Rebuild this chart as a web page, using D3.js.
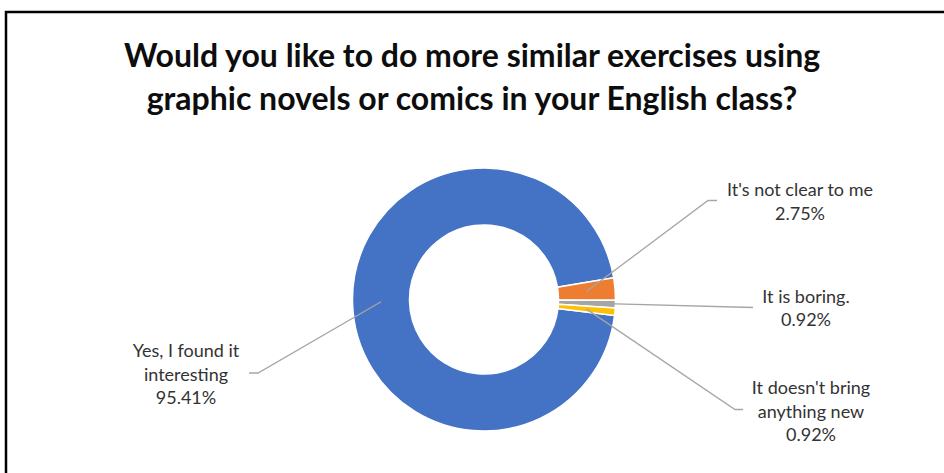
<!DOCTYPE html>
<html>
<head>
<meta charset="utf-8">
<script src="https://cdn.jsdelivr.net/npm/d3@7"></script>
<style>
  html, body { margin: 0; padding: 0; background: #fff; }
  svg { display: block; }
</style>
</head>
<body>
<svg></svg>
<script>
// Set variables

let categories = ['Yes, I found it interesting', "It's not clear to me", 'It is boring.', "It doesn't bring anything new"]
let values = [95.41, 2.75, 0.92, 0.92]
let labelLines = [
    ['Yes, I found it', 'interesting'],
    ["It's not clear to me"],
    ['It is boring.'],
    ["It doesn't bring", 'anything new']
]
let titleLines = ['Would you like to do more similar exercises using', 'graphic novels or comics in your English class?']

let colors = ['#4472C4', '#ED7D31', '#A5A5A5', '#FFC000']

let width = 944
let height = 473
let cx = 484
let cy = 299.5
let outerR = 131.5
let innerR = 74.5
let startDeg = 97

// where each label sits: center x, first baseline, leader elbow and end
let labelLayout = [
    { x: 186, y: 357, elbow: [258, 373], end: [249, 373] },
    { x: 800, y: 196, elbow: [708, 200.5], end: [717, 200.5] },
    { x: 806, y: 302.5, elbow: null, end: [753, 307.5] },
    { x: 811, y: 394, elbow: [735, 409.5], end: [743, 409.5] }
]
let lineGap = 23.5

let svg = d3.select('svg')

// Draw canvas

let drawCanvas = () => {
    svg.attr('width', width)
    svg.attr('height', height)

    // frame, only left and top edges show in the picture
    svg.append('path')
        .attr('d', 'M6,' + height + ' L6,12 L' + width + ',12')
        .attr('fill', 'none')
        .attr('stroke', '#000')
        .attr('stroke-width', 2.5)
}

// Draw title

let drawTitle = () => {
    let title = svg.append('text')
        .attr('text-anchor', 'middle')
        .attr('font-family', 'Lato, sans-serif')
        .attr('font-weight', 'bold')
        .attr('font-size', 32)
        .attr('fill', '#0d0d0d')

    title.selectAll('tspan')
        .data(titleLines)
        .enter()
        .append('tspan')
        .attr('x', 472)
        .attr('y', (d, i) => 67 + i * 43)
        .text((d) => d)
}

// Draw donut

let drawDonut = () => {
    let startAngle = startDeg * Math.PI / 180
    let pie = d3.pie()
                .sort(null)
                .startAngle(startAngle)
                .endAngle(startAngle + 2 * Math.PI)

    let arcs = pie(values)

    let arc = d3.arc()
                .innerRadius(innerR)
                .outerRadius(outerR)

    let g = svg.append('g')
        .attr('transform', 'translate(' + cx + ',' + cy + ')')

    g.selectAll('path')
        .data(arcs)
        .enter()
        .append('path')
        .attr('d', arc)
        .attr('fill', (d, i) => colors[i])
        .attr('stroke', '#fff')
        .attr('stroke-width', 1.5)

    // leader lines from the middle of each slice
    let lines = svg.append('g')
    arcs.forEach((d, i) => {
        let c = arc.centroid(d)
        let lay = labelLayout[i]
        let pts = [[cx + c[0], cy + c[1]]]
        if (lay.elbow) pts.push(lay.elbow)
        pts.push(lay.end)
        lines.append('path')
            .attr('d', d3.line()(pts))
            .attr('fill', 'none')
            .attr('stroke', '#A6A6A6')
            .attr('stroke-width', 1.3)
    })

    // data labels
    let labels = svg.append('g')
        .attr('font-family', 'Lato, sans-serif')
        .attr('font-size', 18)
        .attr('fill', '#333')
        .attr('text-anchor', 'middle')

    arcs.forEach((d, i) => {
        let lay = labelLayout[i]
        let rows = labelLines[i].concat([values[i].toFixed(2) + '%'])
        let t = labels.append('text')
        rows.forEach((r, j) => {
            t.append('tspan')
                .attr('x', lay.x)
                .attr('y', lay.y + j * lineGap)
                .text(r)
        })
    })
}

drawCanvas()
drawTitle()
drawDonut()
</script>
</body>
</html>
